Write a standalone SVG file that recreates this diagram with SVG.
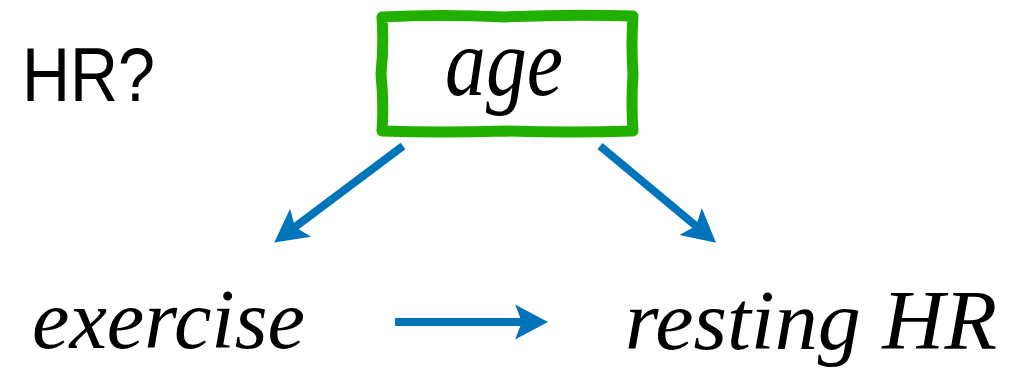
<svg xmlns="http://www.w3.org/2000/svg" width="1024" height="368" viewBox="0 0 1024 368">
<style>
.lbl{font-family:Liberation Serif, serif;font-style:italic;fill:#000}
.sans{font-family:Liberation Sans, sans-serif;fill:#000}
.conn{stroke:#0074bb;stroke-width:8;fill:none}
</style>
<defs>
<marker id="ah" markerUnits="userSpaceOnUse" markerWidth="60" markerHeight="60" viewBox="-20 -30 60 60" refX="0" refY="0" orient="auto" overflow="visible">
<path d="M26,0 L-7,-17.5 L0,0 L-7,17.5 Z" fill="#0074bb"/>
</marker>
</defs>
<rect width="1024" height="368" fill="#fff"/>
<g id="hr-question">
<text class="sans" x="22" y="101" font-size="76" textLength="133" lengthAdjust="spacingAndGlyphs">HR?</text>
</g>
<g id="age">
<path d="M382,17 Q440,14 505,17 Q570,14 633,16 Q631,45 633,74 Q631,104 633,131 Q570,133 505,131 Q440,133 382,131 Q384,104 381,74 Q384,45 382,17 Z" fill="#fff" stroke="#22b000" stroke-width="11" stroke-linejoin="round"/>
<text class="lbl" transform="translate(504,95) scale(3)" x="0" y="0" font-size="32.7" text-anchor="middle" textLength="39.3" lengthAdjust="spacingAndGlyphs">age</text>
</g>
<g id="exercise">
<text class="lbl" transform="translate(32,348) scale(3)" x="0" y="0" font-size="28" textLength="91" lengthAdjust="spacingAndGlyphs">exercise</text>
</g>
<g id="resting-hr">
<text class="lbl" transform="translate(625,349) scale(3)" x="0" y="0" font-size="28.3" textLength="124" lengthAdjust="spacingAndGlyphs">resting HR</text>
</g>
<g id="connectors">
<line class="conn" x1="403" y1="146" x2="295" y2="227" marker-end="url(#ah)"/>
<line class="conn" x1="600" y1="146" x2="696" y2="226" marker-end="url(#ah)"/>
<line class="conn" x1="395" y1="322" x2="522" y2="322" marker-end="url(#ah)"/>
</g>
</svg>
